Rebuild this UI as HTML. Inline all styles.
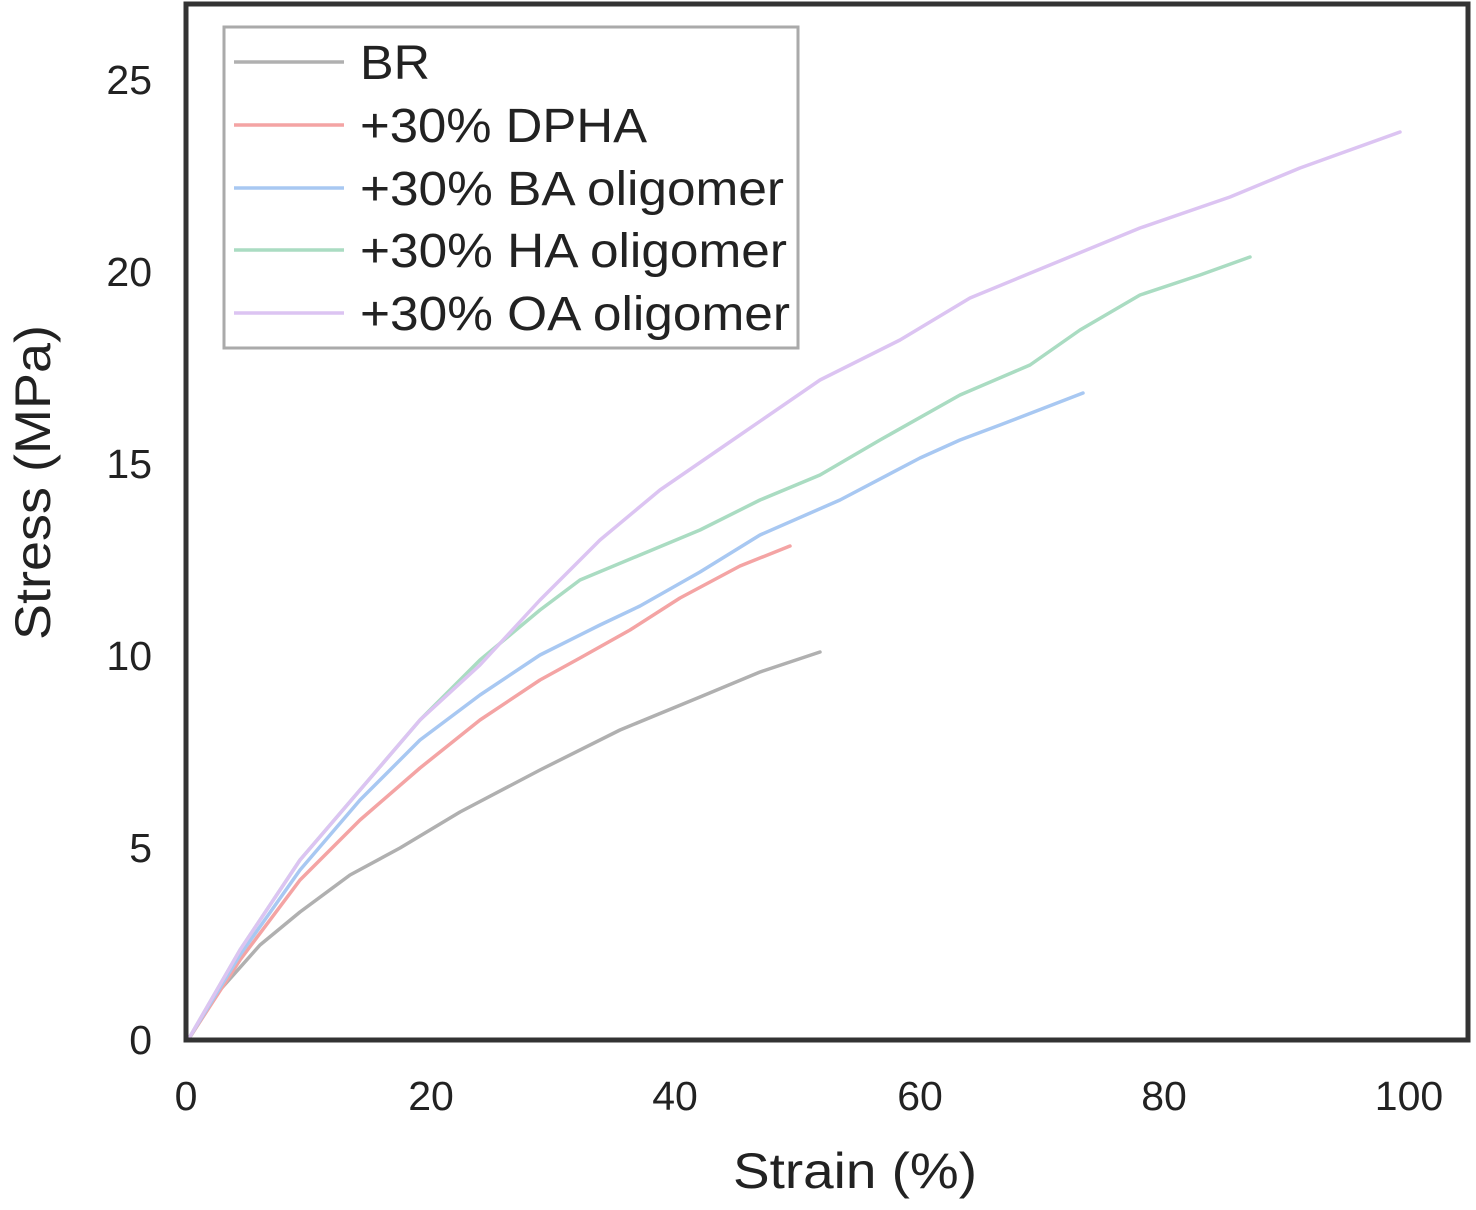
<!DOCTYPE html>
<html><head><style>body{margin:0;background:#fff}</style></head><body>
<svg width="1476" height="1205" xmlns="http://www.w3.org/2000/svg" font-family="Liberation Sans, sans-serif">
<rect x="0" y="0" width="1476" height="1205" fill="#fff"/>
<g fill="none" stroke-width="3.5" stroke-linejoin="round" stroke-linecap="round">
<polyline stroke="#b0b0b0" points="188,1040 220,990 260,945 300,912 350,875 400,848 460,812 540,770 620,730 700,697 760,672 820,652"/>
<polyline stroke="#f4a4a4" points="188,1040 240,960 300,880 360,820 420,768 480,720 540,680 580,658 630,630 680,598 740,566 790,546"/>
<polyline stroke="#a8c8f2" points="188,1040 240,955 300,870 360,800 420,740 480,695 540,655 600,625 640,606 700,572 760,535 840,500 920,458 960,440 1000,425 1083,393"/>
<polyline stroke="#aadcc2" points="188,1040 240,950 300,860 360,790 420,720 480,660 540,610 580,580 640,555 700,530 760,500 820,475 880,440 960,395 1030,365 1080,330 1140,295 1200,275 1250,257"/>
<polyline stroke="#dcc4f2" points="188,1040 240,950 300,860 360,790 420,720 480,665 540,600 600,540 660,490 740,435 820,380 900,340 970,298 1050,265 1140,228 1230,197 1300,168 1400,132"/>
</g>
<rect x="186" y="4" width="1282" height="1036" fill="none" stroke="#333" stroke-width="5"/>
<rect x="224" y="27" width="574" height="321" fill="#fff" stroke="#aaa" stroke-width="3"/>
<g stroke-width="3.5">
<line x1="234" y1="62" x2="344" y2="62" stroke="#b0b0b0"/>
<line x1="234" y1="125" x2="344" y2="125" stroke="#f4a4a4"/>
<line x1="234" y1="188" x2="344" y2="188" stroke="#a8c8f2"/>
<line x1="234" y1="250" x2="344" y2="250" stroke="#aadcc2"/>
<line x1="234" y1="313" x2="344" y2="313" stroke="#dcc4f2"/>
</g>
<g font-size="48" fill="#222" lengthAdjust="spacingAndGlyphs">
<text x="360" y="79" textLength="70" lengthAdjust="spacingAndGlyphs">BR</text>
<text x="360" y="142" textLength="287" lengthAdjust="spacingAndGlyphs">+30% DPHA</text>
<text x="360" y="205" textLength="424" lengthAdjust="spacingAndGlyphs">+30% BA oligomer</text>
<text x="360" y="267" textLength="427" lengthAdjust="spacingAndGlyphs">+30% HA oligomer</text>
<text x="360" y="330" textLength="430" lengthAdjust="spacingAndGlyphs">+30% OA oligomer</text>
</g>
<g font-size="41" fill="#222" text-anchor="end">
<text x="152" y="1054">0</text>
<text x="152" y="862">5</text>
<text x="152" y="670">10</text>
<text x="152" y="478">15</text>
<text x="152" y="286">20</text>
<text x="152" y="94">25</text>
</g>
<g font-size="41" fill="#222" text-anchor="middle">
<text x="186" y="1110">0</text>
<text x="431" y="1110">20</text>
<text x="675" y="1110">40</text>
<text x="920" y="1110">60</text>
<text x="1164" y="1110">80</text>
<text x="1409" y="1110">100</text>
</g>
<text x="733" y="1188" font-size="50" fill="#222" textLength="244" lengthAdjust="spacingAndGlyphs">Strain (%)</text>
<text transform="translate(50,640) rotate(-90)" font-size="50" fill="#222" textLength="315" lengthAdjust="spacingAndGlyphs">Stress (MPa)</text>
</svg>
</body></html>
